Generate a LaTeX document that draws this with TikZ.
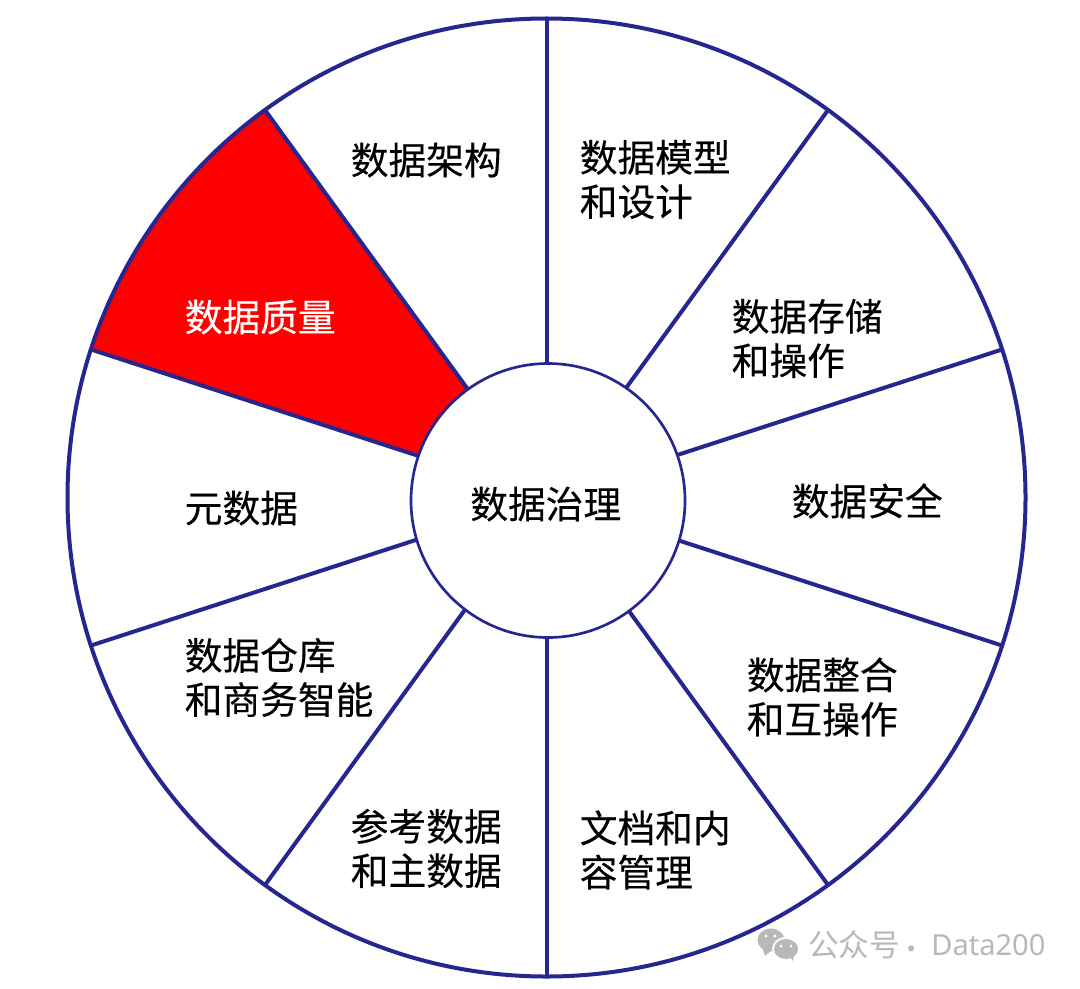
\documentclass[tikz,border=0pt]{standalone}
\usepackage{fontspec}
\usetikzlibrary{calc}
\setmainfont{Noto Sans CJK SC}
\newfontfamily\lblfont[FakeBold=0.25]{Noto Sans CJK SC}
\newfontfamily\wmfont{Noto Sans}
\definecolor{wheel}{RGB}{38,38,145}
\definecolor{wmgray}{RGB}{184,184,184}
\tikzset{
  lbl/.style={inner sep=0pt,font=\lblfont\fontsize{28.3pt}{33.2pt}\selectfont,text=black,align=left,anchor=west},
  spoke/.style={draw=wheel,line width=3pt},
  wm/.style={inner sep=0pt,text=wmgray,anchor=west},
}
\begin{document}
\begin{tikzpicture}[x=0.75pt,y=-0.75pt]
\useasboundingbox (0,0) rectangle (1080,988);
\fill[white] (0,0) rectangle (1080,988);
\coordinate (c) at (546.5,497.5);
\foreach \n/\a in {a/90,b/54,d/18,e/-18,f/-54,g/-90,h/-126,i/-162,j/162,k/126}{
  \coordinate (o\n) at ($(c)+({479*cos(\a)},{-479*sin(\a)})$);
}
% red sector
\fill[red] (c) -- (ok) arc[start angle=-126,end angle=-162,radius=479] -- cycle;
% outer ring
\draw[spoke] (c) circle[radius=479];
% spokes
\foreach \n in {a,b,d,e,f,g,h,i,j,k}{ \draw[spoke] (o\n) -- (c); }
% hub
\node[circle,draw=wheel,line width=2pt,fill=white,minimum size=205.5pt,inner sep=0pt] (hub) at (548,500.5) {};
\node[lbl] (t0) at (470,504) {数据治理};
\node[lbl] (t1) at (350.5,160) {数据架构};
\node[lbl] (t2) at (579.5,179.5) {数据模型\\和设计};
\node[lbl] (t3) at (731.5,338.5) {数据存储\\和操作};
\node[lbl] (t4) at (791.5,501) {数据安全};
\node[lbl] (t5) at (746.5,697) {数据整合\\和互操作};
\node[lbl] (t6) at (579.5,850) {文档和内\\容管理};
\node[lbl] (t7) at (350.5,848.5) {参考数据\\和主数据};
\node[lbl] (t8) at (184.5,677.5) {数据仓库\\和商务智能};
\node[lbl] (t9) at (184.5,508) {元数据};
\node[lbl,text=white] (t10) at (184.5,317) {数据质量};
% watermark icon
\fill[wmgray] (771,940) ellipse[x radius=13.5,y radius=11.5];
\fill[wmgray] (762,947) -- (765,956) -- (772,950) -- cycle;
\fill[white] (786,949) ellipse[x radius=14,y radius=12];
\fill[wmgray] (786,949) ellipse[x radius=12,y radius=10];
\fill[wmgray] (789,956) -- (793,961) -- (794,954) -- cycle;
\fill[white] (766,936) circle[radius=1.7] (775,936) circle[radius=1.7] (781,946) circle[radius=1.5] (791,946) circle[radius=1.5];
\node[wm,font=\fontsize{23pt}{26pt}\selectfont] (w1) at (808,945) {公众号};
\node[wm,font=\fontsize{21pt}{24pt}\selectfont] (w2) at (897,953) {·};
\node[wm,font=\wmfont\fontsize{21.8pt}{24pt}\selectfont] (w3) at (931,945) {Data200};
\end{tikzpicture}
\end{document}
